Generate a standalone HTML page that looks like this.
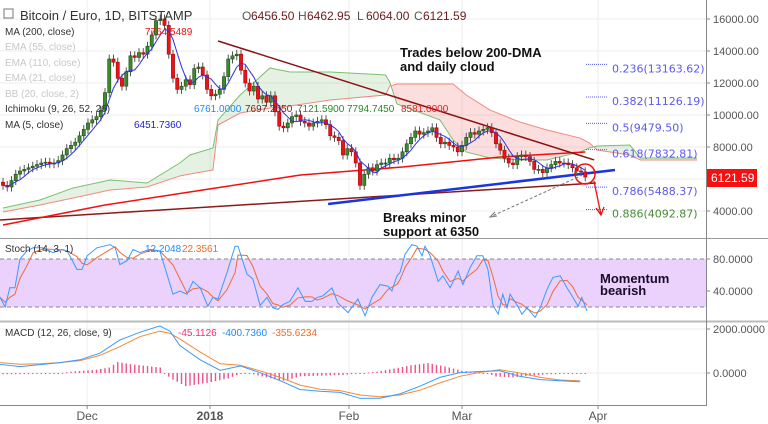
<!DOCTYPE html>
<html><head><meta charset="utf-8"><style>
html,body{margin:0;padding:0;background:#fff;width:768px;height:424px;overflow:hidden}
svg{display:block;font-family:"Liberation Sans",sans-serif}
</style></head><body>
<svg id="chart" width="768" height="424" viewBox="0 0 768 424" xmlns="http://www.w3.org/2000/svg"></svg>
<script>
const closes=[5600,5500,5900,6300,6500,6600,6700,6800,6900,7000,7050,6950,7000,7150,7500,7900,8100,8300,8700,9100,9500,9700,9900,10300,11400,13500,13300,12300,11800,12700,13700,13600,13900,13800,14300,15000,15900,16000,15600,13800,12300,11600,11800,12200,11900,12900,13000,12500,11600,11200,11300,11600,12400,13500,13700,13800,12800,12000,11500,11800,11000,11200,10800,11200,10200,9300,9200,9500,9900,10000,9600,9500,9300,9500,9600,9700,9400,8700,8600,8400,7500,7900,7700,7000,5600,6300,6700,6500,6900,7000,7000,7300,7200,7300,7700,8200,8600,9000,8800,8900,9000,9200,8600,8200,8300,8100,8000,7700,8100,8600,8900,8800,9000,9100,9200,8900,8200,7800,7300,7000,6900,7400,7500,7400,7100,6600,6600,6400,6700,6900,7100,7000,7000,6900,6700,6500,6450,6122];
const ma200Days=[0,24,47,70,94,117,137];
const ma200Vals=[3125,4375,5310,6250,6750,7375,7690];
const cloudDays=[0,8.7,16.5,25.2,33.9,41.6,44,49.4,50.6,55.8,62.8,67.5,77,90,91,92.7,102.8,105.9,109,114.6,121.6,128,135.8,138,139.8,147.5,150,163.3];
const spanA=[4190,4690,5440,5940,5750,7000,7500,7940,9690,11250,12940,12690,12690,12500,12060,10690,9690,8440,7690,7310,7190,7190,7690,7940,8060,8125,7310,7310];
const spanB=[3940,4375,4810,5310,5500,6190,6310,6560,9375,10125,10440,10560,10940,11250,11810,11940,11940,11940,11250,10310,9560,9060,8560,8250,7810,7500,7190,7190];
const stochDays=[-0.7,0.5,1.6,2.8,4,5.6,7.1,9.4,11.8,13.9,15.1,17.4,18.6,19.8,22.1,25.2,26.4,27.5,29.2,30.6,32.2,34.6,36.9,40,41.6,43.3,44.7,46.4,48.2,49.4,50.6,52.7,54.6,55.3,57.4,58.8,60.5,62.1,63.5,64.7,65.9,67.5,69.4,71.1,72.7,73.9,75.3,77.4,78.8,81.2,83.5,85.2,86.8,88.7,90.6,91.5,92.7,93.4,94.6,96.2,97.4,98.6,99.3,100.5,102.4,103.5,105.2,107.1,108.2,109.9,111.5,112.9,114.1,115.3,116.5,117.6,118.6,119.3,120.9,122.1,123.3,125.2,126.4,128,129.4,131.1,132.7,134.1,135.3,136.2,137.4];
const stochK=[32,20,44,44,80,90,94,94,88,92,90,67,67,84,94,98,94,73,78,92,88,92,90,36,40,36,52,44,21,32,30,63,96,96,61,55,22,32,19,17,23,27,44,27,27,32,34,44,25,13,30,9,32,48,46,40,59,63,86,98,96,84,96,84,52,59,44,65,48,69,84,84,67,22,11,36,19,36,23,11,19,7,19,42,57,59,44,32,21,32,15];
const macdDays=[-0.7,4,8.7,13.4,18.1,22.8,27.5,32.2,36.9,39.3,41.6,46.4,51.1,55.8,60.5,65.2,69.9,74.6,79.3,84,88.7,93.4,98.1,102.8,107.5,112.2,116.9,121.6,126.4,131.1,135.8];
const macdLine=[395,290,380,470,600,900,1500,1850,2140,1900,1250,600,120,320,15,-350,-750,-830,-880,-1150,-1150,-950,-600,-200,15,70,100,-150,-300,-350,-400];
const signalLine=[470,400,420,470,560,800,1200,1650,1900,1800,1550,950,420,350,100,-200,-550,-740,-800,-1000,-1080,-1000,-780,-450,-150,30,150,0,-200,-320,-360];
const histDays=[0,12,16,22,25,27,30,37,38,40,43,48,53,56,58,62,66,70,80,88,92,96,100,104,108,112,114,116,120,124,128,134,137];
const histVals=[-60,-40,60,150,250,500,400,250,-30,-300,-600,-450,-250,-20,-20,-200,-360,-150,-90,60,200,350,450,300,100,20,-20,-160,-200,-120,-60,-40,-45];
const priceTicks=[16000,14000,12000,10000,8000,4000];
const fibLabels=["0.236(13163.62)","0.382(11126.19)","0.5(9479.50)","0.618(7832.81)","0.786(5488.37)","0.886(4092.87)"];
const fibPrices=[13163.62,11126.19,9479.5,7832.81,5488.37,4092.87];
const monthLabels=["Dec","2018","Feb","Mar","Apr"];
const monthDays=[19.8,48.7,81.4,108,140];
const trendUpperDays=[50.6,139.1],trendUpperP=[14625,7190];
const trendLowerDays=[-0.7,139.5],trendLowerP=[3440,5750];
const supportDays=[76.5,144],supportP=[4440,6560];

const NS="http://www.w3.org/2000/svg";
const svg=document.getElementById('chart');
const X=d=>3+d*4.25;
const Y=p=>19+(16000-p)*0.016;
const YS=v=>259+(80-v)*0.8;
const YM=v=>373-v*0.022;
function el(tag,a,parent){const e=document.createElementNS(NS,tag);for(const k in a)e.setAttribute(k,a[k]);(parent||svg).appendChild(e);return e;}
function txt(s,x,y,a){const e=el('text',Object.assign({x:x,y:y},a||{}));e.textContent=s;return e;}
function interp(ds,vs,d){if(d<=ds[0])return vs[0];for(let i=1;i<ds.length;i++){if(d<=ds[i]){const t=(d-ds[i-1])/(ds[i]-ds[i-1]);return vs[i-1]+t*(vs[i]-vs[i-1]);}}return vs[vs.length-1];}

// grid
const grid=el('g',{});

for(const p of [16000,14000,12000,10000,8000,6000,4000]){el('line',{x1:0,x2:706,y1:Y(p),y2:Y(p),stroke:'#eeeeee'},grid);}
for(const d of monthDays){el('line',{x1:X(d),x2:X(d),y1:0,y2:405,stroke:'#eeeeee'},grid);}
el('line',{x1:0,x2:706,y1:YS(40),y2:YS(40),stroke:'#eeeeee'},grid);
el('line',{x1:0,x2:706,y1:YM(2000),y2:YM(2000),stroke:'#eeeeee'},grid);
el('line',{x1:0,x2:706,y1:YM(0),y2:YM(0),stroke:'#eeeeee'},grid);

// cloud
const cloud=el('g',{});

for(let i=1;i<cloudDays.length;i++){
 const a0=spanA[i-1],a1=spanA[i],b0=spanB[i-1],b1=spanB[i];
 const green=(a0+a1)>=(b0+b1);
 el('polygon',{points:`${X(cloudDays[i-1])},${Y(a0)} ${X(cloudDays[i])},${Y(a1)} ${X(cloudDays[i])},${Y(b1)} ${X(cloudDays[i-1])},${Y(b0)}`,fill:green?'rgba(100,180,90,0.17)':'rgba(245,90,90,0.2)',stroke:'none'},cloud);
}
const spA=el('polyline',{points:cloudDays.map((d,i)=>X(d)+','+Y(spanA[i])).join(' '),fill:'none',stroke:'#7cbf6f','stroke-width':1},cloud);

const spB=el('polyline',{points:cloudDays.map((d,i)=>X(d)+','+Y(spanB[i])).join(' '),fill:'none',stroke:'#f08a80','stroke-width':1},cloud);


// trend lines
const tl=el('line',{x1:X(trendLowerDays[0]),y1:Y(trendLowerP[0]),x2:X(trendLowerDays[1]),y2:Y(trendLowerP[1]),stroke:'#8b1a1a','stroke-width':1.5});

const ma=el('polyline',{points:ma200Days.map((d,i)=>X(d)+','+Y(ma200Vals[i])).join(' '),fill:'none',stroke:'#f01010','stroke-width':1.5});

const tu=el('line',{x1:X(trendUpperDays[0]),y1:Y(trendUpperP[0]),x2:X(trendUpperDays[1]),y2:Y(trendUpperP[1]),stroke:'#8b1010','stroke-width':1.5});

const sl=el('line',{x1:X(supportDays[0]),y1:Y(supportP[0]),x2:X(supportDays[1]),y2:Y(supportP[1]),stroke:'#1a35e0','stroke-width':2.5});


// candles
const cg=el('g',{});

for(let i=0;i<closes.length;i++){
 const o=i?closes[i-1]:5800,c=closes[i];
 const up=c>=o;const x=X(i);
 const hi=Math.max(o,c)+280,lo=Math.min(o,c)-280;
 const w=el('line',{x1:x,x2:x,y1:Y(hi),y2:Y(lo),stroke:'#555','stroke-width':1},cg);
 
 const top=Y(Math.max(o,c)),h=Math.max(1,Y(Math.min(o,c))-top);
 const b=el('rect',{x:x-1.6,y:top,width:3.2,height:h,fill:up?'#3a8a2e':'#e8141c',stroke:up?'#1f4a18':'#a00','stroke-width':0.6},cg);
 
}
// MA5
const ma5=[];for(let i=0;i<closes.length;i++){const s=closes.slice(Math.max(0,i-4),i+1);ma5.push(s.reduce((a,b)=>a+b,0)/s.length);}
const m5=el('polyline',{points:ma5.map((v,i)=>X(i)+','+Y(v)).join(' '),fill:'none',stroke:'#3030e0','stroke-width':1});


// fib levels
for(let i=0;i<fibPrices.length;i++){
 const col=i==5?'#4a8a3a':'#5a5af0';
 const y=Y(fibPrices[i]);
 const l=el('line',{x1:586,x2:607,y1:y,y2:y,stroke:col,'stroke-dasharray':'1,1'});
 
 const t=txt(fibLabels[i],612,y+8,{'font-size':'11','font-family':'"DejaVu Sans",sans-serif',fill:col});
 
}

// annotations
const circ=el('circle',{cx:585,cy:174,r:10,fill:'none',stroke:'#f01010','stroke-width':1.5});

const ar=el('path',{d:'M594 181 L601 215 M596 208 L601 215 L604 207',fill:'none',stroke:'#f01010','stroke-width':1.3});

const da=el('path',{d:'M578 177 L490 217',fill:'none',stroke:'#777','stroke-dasharray':'3,2'});

const dh=el('path',{d:'M497 216 L490 217 L495 212',fill:'none',stroke:'#777'});

const n1=txt('Trades below 200-DMA',400,57,{'font-size':'13','font-weight':'bold',fill:'#111'});

const n2=txt('and daily cloud',400,71,{'font-size':'13','font-weight':'bold',fill:'#111'});

const n3=txt('Breaks minor',383,222,{'font-size':'13','font-weight':'bold',fill:'#111'});

const n4=txt('support at 6350',383,236,{'font-size':'13','font-weight':'bold',fill:'#111'});


// legend
const L=el('g',{'font-size':'10'});

el('rect',{x:4,y:9,width:9,height:9,fill:'none',stroke:'#777'},L);
const t0=txt('Bitcoin / Euro, 1D, BITSTAMP',20,20,{'font-size':'13',fill:'#333'});L.appendChild(t0);

const ohlcL=['O','H','L','C'],ohlcV=['6456.50','6462.95','6064.00','6121.59'],ohlcX=[242,298,357,414];
for(let i=0;i<4;i++){const a=txt(ohlcL[i],ohlcX[i],20,{'font-size':'12',fill:'#555'});L.appendChild(a);
 const b=txt(ohlcV[i],ohlcX[i]+9,20,{'font-size':'12',fill:'#6b1a1a'});L.appendChild(b);}
const rows=[['MA (200, close)',35,'#333'],['EMA (55, close)',50,'#c8c8c8'],['EMA (110, close)',66,'#c8c8c8'],['EMA (21, close)',81,'#c8c8c8'],['BB (20, close, 2)',97,'#c8c8c8'],['Ichimoku (9, 26, 52, 26)',112,'#333'],['MA (5, close)',128,'#333']];
for(const r of rows){const t=txt(r[0],5,r[1],{fill:r[2]});L.appendChild(t);}
const vals=[['7764.5489',145,35,'#f01010'],['6761.0000',194,112,'#1a8cff'],['7697.2650',245,112,'#7a1a1a'],['7121.5900',297,112,'#2a8a2a'],['7794.7450',347,112,'#2a8a2a'],['8581.0000',401,112,'#e02020'],['6451.7360',134,128,'#2020d0']];
for(const v of vals){const t=txt(v[0],v[1],v[2],{fill:v[3]});L.appendChild(t);}

// stoch pane
const st=el('g',{});

el('rect',{x:0,y:YS(80),width:706,height:YS(20)-YS(80),fill:'#ead2fc'},st);
el('line',{x1:0,x2:706,y1:YS(80),y2:YS(80),stroke:'#888','stroke-dasharray':'4,3'},st);
el('line',{x1:0,x2:706,y1:YS(20),y2:YS(20),stroke:'#888','stroke-dasharray':'4,3'},st);
const stochD=stochK.map((v,i)=>{const s=stochK.slice(Math.max(0,i-2),i+1);return s.reduce((a,b)=>a+b,0)/s.length;});
const sd=el('polyline',{points:stochDays.map((d,i)=>X(d)+','+YS(stochD[i])).join(' '),fill:'none',stroke:'#f06a3a','stroke-width':1},st);

const sk=el('polyline',{points:stochDays.map((d,i)=>X(d)+','+YS(stochK[i])).join(' '),fill:'none',stroke:'#3a9aff','stroke-width':1},st);

const sl1=txt('Stoch (14, 3, 1)',5,252,{'font-size':'10',fill:'#333'});

const sv1=txt('12.2048',145,252,{'font-size':'10',fill:'#1a8cff'});

const sv2=txt('22.3561',182,252,{'font-size':'10',fill:'#f06a2a'});

const mb1=txt('Momentum',600,283,{'font-size':'13','font-weight':'bold',fill:'#1a0a2a'});

const mb2=txt('bearish',600,295,{'font-size':'13','font-weight':'bold',fill:'#1a0a2a'});


// macd pane
const mg=el('g',{});

for(let i=0;i<closes.length;i++){
 const h=interp(histDays,histVals,i);
 const y0=YM(0),y1=YM(h);
 const b=el('rect',{x:X(i)-0.7,y:Math.min(y0,y1),width:1.4,height:Math.max(1,Math.abs(y1-y0)),fill:'#f0508a'},mg);
 
}
const sg=el('polyline',{points:macdDays.map((d,i)=>X(d)+','+YM(signalLine[i])).join(' '),fill:'none',stroke:'#f08a3a','stroke-width':1},mg);

const ml=el('polyline',{points:macdDays.map((d,i)=>X(d)+','+YM(macdLine[i])).join(' '),fill:'none',stroke:'#3a9aff','stroke-width':1},mg);

const mlab=txt('MACD (12, 26, close, 9)',5,336,{'font-size':'10',fill:'#333'});

const mv=[['-45.1126',178,'#f0306a'],['-400.7360',222,'#1a8cff'],['-355.6234',272,'#f06a2a']];
for(const v of mv){const t=txt(v[0],v[1],336,{'font-size':'10',fill:v[2]});}

// separators & axes
const ax=el('g',{});

el('line',{x1:0,x2:768,y1:238.5,y2:238.5,stroke:'#999','stroke-width':1},ax);
el('line',{x1:0,x2:768,y1:321.5,y2:321.5,stroke:'#bbb','stroke-width':2},ax);
el('line',{x1:0,x2:706,y1:405.5,y2:405.5,stroke:'#888'},ax);
el('line',{x1:706.5,x2:706.5,y1:0,y2:406,stroke:'#888'},ax);
for(const p of priceTicks){el('line',{x1:706,x2:710,y1:Y(p),y2:Y(p),stroke:'#888'},ax);
 const t=txt(p.toFixed(2),713,Y(p)+4,{'font-size':'11',fill:'#555'});}
const pt=el('rect',{x:707,y:169,width:50,height:18,fill:'#f81010'});

const ptt=txt('6121.59',711,182,{'font-size':'12',fill:'#fff'});

for(const v of [80,40]){el('line',{x1:706,x2:710,y1:YS(v),y2:YS(v),stroke:'#888'},ax);
 const t=txt(v.toFixed(4),713,YS(v)+4,{'font-size':'11',fill:'#555'});}
for(const v of [2000,0]){el('line',{x1:706,x2:710,y1:YM(v),y2:YM(v),stroke:'#888'},ax);
 const t=txt(v.toFixed(4),713,YM(v)+4,{'font-size':'11',fill:'#555'});}
for(let i=0;i<monthLabels.length;i++){
 el('line',{x1:X(monthDays[i]),x2:X(monthDays[i]),y1:405,y2:409,stroke:'#888'},ax);
 const t=txt(monthLabels[i],X(monthDays[i]),420,{'font-size':'12',fill:'#555','text-anchor':'middle','font-weight':monthLabels[i]==='2018'?'bold':'normal'});
 
}
</script>
</body></html>
